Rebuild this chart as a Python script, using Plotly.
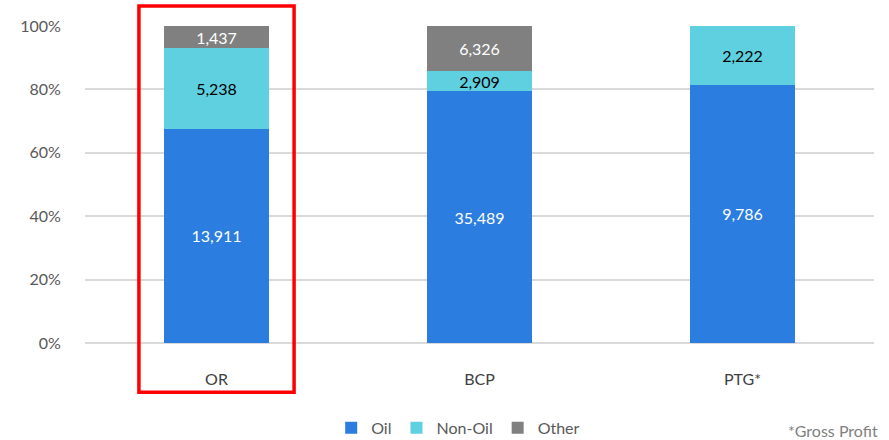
import plotly.graph_objects as go

categories = ["OR", "BCP", "PTG*"]
oil = [13911, 35489, 9786]
non_oil = [5238, 2909, 2222]
other = [1437, 6326, 0]
y_ticks = [0, 20, 40, 60, 80, 100]

FONT = "Lato"
fig = go.Figure()

def add(name, vals, color, tcolor):
    fig.add_trace(go.Bar(
        name=name, x=categories, y=vals, marker_color=color,
        marker_line_width=0,
        text=[f"{v:,}" if v else "" for v in vals],
        textposition="inside", insidetextanchor="middle", constraintext="none",
        textfont=dict(color=tcolor, size=16, family=FONT),
        hoverinfo="skip",
    ))

add("Oil", oil, "#2B7DE0", "white")
add("Non-Oil", non_oil, "#5FD0E0", "black")
add("Other", other, "#808080", "white")

fig.update_layout(
    barmode="stack", barnorm="percent", bargap=0.6,
    width=889, height=440,
    margin=dict(l=85, r=15, t=26, b=97, autoexpand=False),
    plot_bgcolor="white", paper_bgcolor="white",
    font=dict(family=FONT, color="#595959", size=15),
    uniformtext=dict(minsize=16, mode="show"),
    legend=dict(orientation="h", x=0.473, xanchor="center", y=-0.268, yanchor="middle",
                font=dict(size=16, color="#595959"), traceorder="normal",
                itemwidth=30, tracegroupgap=0),
    showlegend=True,
)
fig.update_yaxes(range=[0, 100], tickvals=y_ticks, ticktext=[f"{t}%" for t in y_ticks],
                 showgrid=True, gridcolor="#D9D9D9", gridwidth=1.5,
                 zeroline=True, zerolinecolor="#D9D9D9", zerolinewidth=1.5,
                 ticks="outside", ticklen=20, tickcolor="rgba(0,0,0,0)",
                 tickfont=dict(size=16, color="#595959"), fixedrange=True, automargin=False)
fig.update_xaxes(showgrid=False, ticks="outside", ticklen=22, tickcolor="rgba(0,0,0,0)",
                 tickfont=dict(size=16, color="#404040"), showline=False, automargin=False)

fig.add_shape(type="rect", xref="x", yref="paper", x0=-0.295, x1=0.295, y0=-0.155, y1=1.063,
              line=dict(color="#FF0000", width=3.5), fillcolor="rgba(0,0,0,0)", layer="above")
fig.add_annotation(text="*Gross Profit", xref="paper", yref="paper", x=1.007, y=-0.275,
                   xanchor="right", yanchor="middle", showarrow=False,
                   font=dict(size=16, color="#7F7F7F", family=FONT))

fig.write_html("out.html", config={"displayModeBar": False},
               post_script="document.body.style.margin='0';document.body.style.overflow='hidden';")
